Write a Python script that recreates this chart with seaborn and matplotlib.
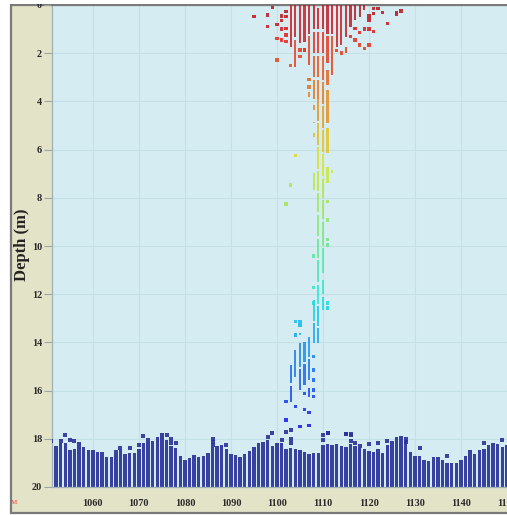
import numpy as np
import pandas as pd
import matplotlib
matplotlib.use("Agg")
import matplotlib.pyplot as plt
from matplotlib.colors import ListedColormap, Normalize
from matplotlib.patches import Rectangle
import seaborn as sns

# ---------------- data ----------------
# seabed band: ping number and top depth of the dense bottom return (m)
bed_ping = list(range(1051, 1151))
bed_top = [18.26, 18.30, 18.17, 18.19, 18.47, 18.44, 18.12, 18.33, 18.47, 18.47,
           18.54, 18.54, 18.77, 18.74, 18.61, 18.47, 18.61, 18.58, 18.58, 18.44,
           18.19, 18.12, 18.08, 17.92, 17.75, 18.06, 18.30, 18.40, 18.72, 18.88,
           18.81, 18.68, 18.74, 18.72, 18.58, 18.36, 18.30, 18.26, 18.44, 18.61,
           18.68, 18.74, 18.63, 18.50, 18.33, 18.19, 18.12, 18.06, 18.30, 18.19,
           18.17, 18.44, 18.40, 18.44, 18.47, 18.54, 18.63, 18.58, 18.58, 18.26,
           18.22, 18.26, 18.22, 18.30, 18.33, 18.22, 18.30, 18.40, 18.44, 18.50,
           18.54, 18.44, 18.58, 18.26, 18.08, 17.92, 17.89, 18.08, 18.54, 18.72,
           18.72, 18.88, 18.91, 18.77, 18.77, 18.86, 18.99, 19.02, 18.99, 18.86,
           18.72, 18.47, 18.61, 18.47, 18.44, 18.26, 18.19, 18.22, 18.33, 18.26]
bed_floor = 20.0

# plume: dense runs of samples (ping, top depth, bottom depth)
run_ping = [1103, 1104, 1104, 1105, 1106, 1106, 1107, 1107,
            1108, 1108, 1108, 1108, 1109, 1109, 1109, 1109,
            1110, 1110, 1110, 1111, 1111, 1111, 1112, 1112,
            1113, 1114, 1115, 1115, 1116, 1117, 1118, 1119,
            1107, 1108, 1108, 1108, 1108,
            1109, 1109, 1109, 1109, 1109,
            1110, 1110, 1110, 1110, 1110, 1110,
            1111, 1111, 1111, 1112,
            1109, 1109, 1109, 1109,
            1110, 1110, 1110, 1110,
            1108, 1108, 1109, 1109,
            1107, 1107, 1107, 1106, 1106,
            1105, 1105, 1105, 1104, 1103, 1103]
run_top = [0.0, 0.0, 1.45, 0.0, 0.0, 1.80, 0.0, 1.30,
           0.0, 1.10, 2.10, 3.10, 0.14, 1.10, 2.10, 3.10,
           0.0, 1.10, 2.10, 0.0, 1.30, 2.70, 0.0, 1.30,
           0.0, 0.0, 0.0, 1.73, 0.0, 0.0, 0.0, 0.0,
           3.60, 4.15, 4.84, 5.32, 6.98,
           3.90, 4.90, 5.90, 6.90, 7.80,
           3.20, 4.20, 5.20, 6.20, 7.20, 8.10,
           3.53, 5.12, 6.71, 6.85,
           8.70, 9.70, 10.60, 11.60,
           9.00, 10.10, 11.41, 12.10,
           12.24, 13.20, 12.50, 13.40,
           13.76, 14.70, 15.91, 13.97, 14.90,
           13.62, 14.04, 15.10, 14.32, 14.94, 15.80]
run_bot = [1.73, 1.31, 2.56, 1.59, 1.52, 1.95, 1.20, 2.49,
           1.00, 2.00, 3.00, 3.90, 1.00, 2.00, 3.00, 3.90,
           1.00, 2.00, 3.10, 1.20, 2.42, 3.30, 1.20, 2.90,
           1.73, 1.66, 1.31, 2.00, 0.90, 0.62, 0.48, 0.21,
           3.80, 4.36, 4.91, 5.46, 7.67,
           4.80, 5.80, 6.80, 7.70, 8.60,
           4.10, 5.10, 6.10, 7.10, 8.00, 8.90,
           4.91, 6.15, 7.39, 6.98,
           9.60, 10.50, 11.50, 12.40,
           10.00, 11.13, 12.00, 12.65,
           13.10, 14.04, 13.30, 14.04,
           14.60, 15.56, 16.25, 14.80, 15.77,
           13.69, 15.00, 15.98, 15.42, 15.70, 16.46]

# isolated single samples in the water column (ping, depth)
pt_ping = [1095, 1098, 1099, 1098, 1100, 1100, 1100, 1101, 1101, 1101, 1101,
           1102, 1102, 1102, 1102, 1102, 1103, 1105, 1105, 1106, 1107, 1107,
           1113, 1114, 1116, 1117, 1117, 1118, 1118, 1119, 1119, 1120, 1120,
           1120, 1120, 1121, 1121, 1122, 1124, 1126, 1126, 1127, 1123, 1121,
           1104, 1103, 1102,
           1111, 1111, 1111, 1111, 1111, 1111, 1108, 1108, 1108,
           1105, 1105, 1104, 1104, 1108, 1108, 1108, 1108, 1108, 1106,
           1102, 1102, 1104, 1105, 1106, 1107, 1107]
pt_depth = [0.48, 0.42, 0.10, 0.90, 0.80, 1.40, 2.28, 0.46, 0.65, 1.00, 1.45,
            0.28, 0.48, 0.97, 1.24, 1.52, 2.50, 1.87, 2.14, 1.87, 3.10, 3.40,
            1.90, 2.00, 1.30, 0.97, 1.45, 1.15, 1.66, 1.80, 1.00, 0.45, 0.62,
            1.00, 1.66, 0.35, 1.10, 0.14, 0.76, 0.30, 0.40, 0.25, 0.30, 0.15,
            6.25, 7.47, 8.26,
            8.16, 8.92, 9.72, 9.96, 12.37, 12.58, 10.41, 11.71, 12.37,
            13.14, 13.28, 13.14, 13.69, 14.59, 15.14, 15.56, 15.98, 16.25, 16.11,
            16.46, 17.22, 16.67, 17.50, 16.78, 16.92, 17.46]

# isolated samples just above the seabed band (ping, depth)
nb_ping = [1102, 1111, 1115, 1116,
           1051, 1053, 1054, 1055, 1056, 1065, 1066, 1068, 1070, 1071, 1072,
           1076, 1077, 1077, 1078, 1086, 1086, 1086, 1089, 1098, 1099, 1101,
           1103, 1103, 1103, 1110, 1110, 1111, 1115, 1116, 1116, 1117, 1118,
           1120, 1122, 1124, 1128, 1128, 1131, 1137, 1145, 1149]
nb_depth = [17.71, 17.77, 17.80, 17.80,
            18.08, 18.08, 17.86, 18.06, 18.08, 18.54, 18.40, 18.40, 18.26, 17.89, 18.06,
            17.86, 17.99, 18.17, 18.19, 17.99, 18.12, 18.26, 18.26, 17.92, 17.78, 18.03,
            17.64, 17.99, 18.19, 17.86, 18.03, 17.78, 17.81, 17.86, 18.08, 18.17, 18.30,
            18.23, 18.19, 18.08, 17.99, 18.12, 18.40, 18.72, 18.19, 18.06]

x_ticks = [1060, 1070, 1080, 1090, 1100, 1110, 1120, 1130, 1140, 1150]
y_ticks = [0, 2, 4, 6, 8, 10, 12, 14, 16, 18, 20]
y_label = "Depth (m)"
corner_text = "M"

# ---------------- style ----------------
W, H = 507, 515
fig = plt.figure(figsize=(W / 100, H / 100), dpi=100, facecolor="white")

base = plt.get_cmap("jet_r")(np.linspace(0, 1, 256))[:, :3]
muted = 0.82 * base + 0.18 * np.array([0.45, 0.45, 0.58])
cmap = ListedColormap(muted)
norm = Normalize(vmin=-1.0, vmax=20)
bed_rgb = "#2b3199"

# outer beige frame
fig.patches.append(Rectangle((11 / W, 2 / H), 1.2, (H - 7) / H, transform=fig.transFigure,
                             facecolor="#e2e3c7", edgecolor="#7a7a7a", linewidth=1.6, zorder=-5))

ax = fig.add_axes([51.7 / W, 1 - 487 / H, (W - 51.7) / W, (487 - 5) / H])
ax.set_facecolor("#d4ecf2")
ax.set_axisbelow(True)
ax.grid(True, color="#c2e0e6", linewidth=0.8)

# seabed band
bed_heights = [bed_floor - t for t in bed_top]
ax.bar(bed_ping, bed_heights, bottom=bed_top, width=0.74, color=bed_rgb,
       alpha=0.92, linewidth=0, zorder=2)
sns.scatterplot(x=nb_ping, y=nb_depth, color=bed_rgb, marker="s", s=6, linewidth=0,
                alpha=0.9, legend=False, ax=ax, zorder=4)

# plume runs
run_h = [b - t for t, b in zip(run_top, run_bot)]
run_c = cmap(norm([(t + b) / 2 for t, b in zip(run_top, run_bot)]))
ax.bar(run_ping, run_h, bottom=run_top, width=0.48, color=run_c, linewidth=0,
       alpha=0.82, zorder=3)

# isolated samples
df = pd.DataFrame({"ping": pt_ping, "depth": pt_depth})
sns.scatterplot(data=df, x="ping", y="depth", hue="depth", palette=cmap, hue_norm=norm,
                marker="s", s=6, linewidth=0, alpha=0.85, legend=False, ax=ax, zorder=4)

ax.set_xlim(1051.05, 1149.95)
ax.set_ylim(20, 0)
ax.set_xticks(x_ticks)
ax.set_yticks(y_ticks)
ax.set_xlabel("")
ax.set_ylabel("")

tick_font = dict(family="Liberation Serif", weight="bold", size=7.4)
ax.set_xticklabels([str(v) for v in x_ticks], **tick_font, color="#2a2a2a")
ax.set_yticklabels([str(v) for v in y_ticks], **tick_font, color="#2a2a2a")
ax.tick_params(axis="y", direction="out", length=6, width=0.8, color="#9aa7a8", pad=1)
ax.tick_params(axis="x", direction="in", length=0, pad=9)

for side in ["left", "bottom"]:
    ax.spines[side].set_color("#9fb3b5")
    ax.spines[side].set_linewidth(0.9)
ax.spines["right"].set_visible(False)
ax.spines["top"].set_color("#7a7a7a")
ax.spines["top"].set_linewidth(1.6)

fig.text(22 / W, 1 - 245 / H, y_label, rotation=90, ha="center", va="center",
         family="Liberation Serif", weight="bold", size=12, color="#222222")
fig.text(14 / W, 1 - 502 / H, corner_text, ha="center", va="center",
         family="Liberation Serif", size=5, color="#ff3030")

# white strip above the frame (clips the top tick label)
fig.patches.append(Rectangle((0, 1 - 4 / H), 1, 4 / H, transform=fig.transFigure,
                             facecolor="white", edgecolor="none", zorder=20))

fig.savefig("out.png", dpi=100, facecolor="white")
